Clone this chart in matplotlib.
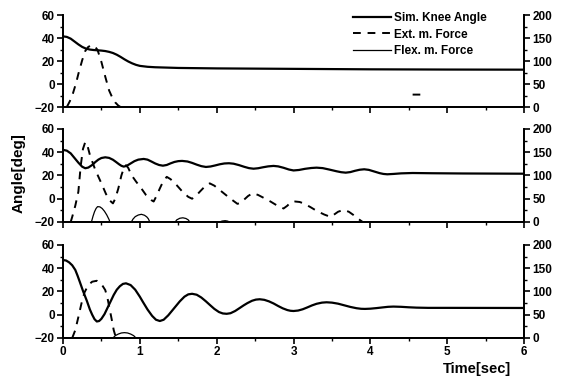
import numpy as np
import matplotlib
matplotlib.use("Agg")
import matplotlib.pyplot as plt
from matplotlib.ticker import MultipleLocator
from matplotlib.font_manager import FontProperties

# panel 1
t_knee1 = [0, 0.05, 0.1, 0.15, 0.2, 0.25, 0.3, 0.35, 0.4, 0.5, 0.55, 0.6, 0.65, 0.7, 0.75, 0.8, 0.85, 0.9, 0.95,
	1.0, 1.1, 1.2, 1.5, 2.0, 3.0, 4.0, 5.0, 6.0]
knee1 = [41.5, 41, 39.5, 37, 34.5, 32.3, 30.8, 30, 29.6, 29.1, 28.7, 28, 27, 25.5, 23.6, 21.5, 19.6, 18, 16.7,
	15.8, 15, 14.6, 14, 13.6, 13.2, 12.8, 12.6, 12.5]
t_ext1 = [0.05, 0.09, 0.13, 0.17, 0.2, 0.25, 0.29, 0.33, 0.37, 0.41, 0.45, 0.5, 0.55, 0.6, 0.64, 0.68, 0.72, 0.75,
	np.nan, 4.55, 4.65]
ext1 = [0, 13, 30, 52, 72, 102, 122, 131, 134, 133, 124, 98, 66, 36, 21, 10, 3, 0,
	np.nan, 27, 27]
t_flex1 = [0, 6]
flex1 = [0, 0]

# panel 2
t_knee2 = [0, 0.05, 0.1, 0.15, 0.2, 0.25, 0.29, 0.33, 0.38, 0.42, 0.46, 0.5, 0.55, 0.6, 0.65, 0.69, 0.73, 0.76, 0.79,
	0.83, 0.88, 0.93, 0.98, 1.05, 1.1, 1.15, 1.2, 1.25, 1.3, 1.35, 1.4, 1.45, 1.5, 1.55, 1.62, 1.68, 1.74, 1.8, 1.86,
	1.92, 1.98, 2.04, 2.1, 2.16, 2.22, 2.29, 2.36, 2.42, 2.48, 2.54, 2.6, 2.67, 2.74, 2.8, 2.87, 2.94, 3.0,
	3.07, 3.15, 3.23, 3.3, 3.38, 3.47, 3.56, 3.62, 3.68, 3.74, 3.8, 3.86, 3.92, 3.98, 4.05, 4.12, 4.17, 4.22,
	4.3, 4.4, 4.55, 4.8, 5.2, 6.0]
knee2 = [42, 41.3, 39, 35, 31, 27.5, 26.2, 26.8, 29, 31.5, 33.6, 35, 35.6, 35.1, 33.5, 31.6, 29.6, 28.3, 27.6,
	28.3, 30.3, 32.3, 33.6, 34.2, 33.6, 32, 30.3, 29, 28.4, 29, 30.4, 31.6, 32.3, 32.5, 32, 30.8, 29.3, 28, 27.3,
	27.7, 28.6, 29.6, 30.3, 30.5, 30.1, 28.9, 27.4, 26.3, 25.8, 26.2, 27, 27.8, 28.2, 27.8, 26.6, 25.1, 24.3,
	24.7, 25.7, 26.4, 26.7, 26.3, 25, 23.6, 22.8, 22.4, 22.9, 24, 24.9, 25.3, 24.8, 23.4, 22, 21.3, 21,
	21.3, 21.8, 22.1, 21.9, 21.7, 21.5]
t_ext2 = [0.1, 0.12, 0.16, 0.2, 0.23, 0.26, 0.29, 0.32, 0.35, 0.42, 0.5, 0.56, 0.61, 0.65, 0.68, 0.72, 0.76, 0.79,
	0.82, 0.85, 0.89, 0.95, 1.02, 1.08, 1.15, 1.18, 1.22, 1.26, 1.3, 1.35, 1.4, 1.48, 1.55, 1.63, 1.68, 1.73,
	1.78, 1.85, 1.91, 1.97, 2.03, 2.09, 2.18, 2.27, 2.31, 2.35, 2.41, 2.47, 2.54, 2.61, 2.7, 2.78, 2.87,
	2.92, 2.96, 3.02, 3.08, 3.13, 3.22, 3.3, 3.4, 3.48, 3.52, 3.58, 3.65, 3.72, 3.78, 3.84, 3.9]
ext2 = [0, 11, 35, 65, 120, 157, 172, 163, 144, 112, 83, 60, 46, 40, 50, 72, 100, 115,
	122, 116, 101, 87, 72, 58, 47, 44, 57, 72, 86, 97, 92, 79, 66, 54, 50, 56,
	65, 77, 83, 78, 70, 62, 50, 39, 41, 47, 56, 62, 58, 52, 44, 36, 29,
	35, 42, 44, 43, 40, 32, 24, 16, 11, 15, 22, 26, 22, 15, 7, 0]
t_flex2 = [0, 0.37, 0.39, 0.41, 0.43, 0.45, 0.48, 0.51, 0.54, 0.57, 0.6, 0.61,
	0.89, 0.91, 0.94, 0.98, 1.02, 1.06, 1.09, 1.11, 1.13,
	1.46, 1.48, 1.52, 1.56, 1.6, 1.63, 1.65, 2.04, 2.07, 2.11, 2.14, 2.17, 6]
flex2 = [0, 0, 12, 22, 29, 33, 32.5, 29, 23, 15, 5, 0,
	0, 6, 11.5, 15, 16.5, 14.5, 11, 7, 0,
	0, 4.5, 8, 9, 7.5, 4.5, 0, 0, 2, 2.8, 2, 0, 0]

# panel 3
t_knee3 = [0, 0.04, 0.08, 0.12, 0.16, 0.19, 0.22, 0.26, 0.31, 0.35, 0.38, 0.41, 0.44, 0.47, 0.5, 0.54, 0.58, 0.62,
	0.66, 0.7, 0.74, 0.78, 0.82, 0.88, 0.94, 1.0, 1.04, 1.1, 1.16, 1.21, 1.26, 1.31, 1.37, 1.42, 1.47, 1.52,
	1.58, 1.63, 1.68, 1.74, 1.8, 1.86, 1.91, 1.97, 2.03, 2.08, 2.13, 2.18, 2.24, 2.3, 2.35, 2.4, 2.46, 2.51,
	2.56, 2.62, 2.68, 2.74, 2.8, 2.86, 2.92, 2.96, 3.0, 3.06, 3.12, 3.18, 3.24, 3.3, 3.37, 3.43, 3.5, 3.58,
	3.66, 3.74, 3.82, 3.88, 3.93, 4.0, 4.08, 4.16, 4.23, 4.3, 4.4, 4.5, 4.6, 4.75, 5.0, 6.0]
knee3 = [47, 46.6, 45, 42.5, 38.5, 33.5, 28, 20.5, 12, 4.5, 0, -3.8, -5.8, -5.4, -3.5, 0.5, 6, 11.5,
	17, 21.5, 24.5, 26.5, 27, 25.5, 21.5, 15.5, 11, 4.5, -1, -4.3, -5.4, -4.3, -0.5, 3.5, 7.5, 11.5,
	15.5, 17.5, 18, 17.2, 14.8, 11.5, 8.5, 5, 2.3, 1.1, 0.8, 1.3, 3.2, 5.8, 8, 10, 12, 13,
	13.3, 12.8, 11.5, 9.7, 7.5, 5.5, 4, 3.4, 3.2, 3.6, 4.7, 6.3, 8, 9.4, 10.4, 10.7, 10.4, 9.5,
	8.1, 6.7, 5.6, 5.1, 5, 5.2, 5.7, 6.3, 6.8, 7, 6.8, 6.4, 6.1, 5.9, 5.9, 5.8]
t_ext3 = [0.12, 0.16, 0.2, 0.24, 0.28, 0.33, 0.38, 0.44, 0.5, 0.55, 0.58, 0.61, 0.64, 0.66, 0.69]
ext3 = [0, 17, 45, 74, 98, 114, 121, 123, 116, 103, 85, 60, 35, 17, 0]
t_flex3 = [0, 0.65, 0.68, 0.72, 0.76, 0.8, 0.84, 0.88, 0.92, 0.95, 6]
flex3 = [0, 0, 5, 8.5, 10.8, 11.5, 10.8, 8.5, 5, 0, 0]

panels = [
	(t_knee1, knee1, t_ext1, ext1, t_flex1, flex1),
	(t_knee2, knee2, t_ext2, ext2, t_flex2, flex2),
	(t_knee3, knee3, t_ext3, ext3, t_flex3, flex3),
]

tick_font = FontProperties(family='Liberation Sans', weight='bold', size=8.5)


def style_axis(ax):
	ax.tick_params(direction='out', width=1.2, length=4, pad=2)
	ax.tick_params(which='minor', direction='out', width=1, length=2.5)
	for lab in ax.get_xticklabels() + ax.get_yticklabels():
		lab.set_fontproperties(tick_font)
	for s in ['left', 'right', 'bottom']:
		ax.spines[s].set_linewidth(1.3)
	ax.spines['top'].set_visible(False)


def plot():
	fig = plt.figure(figsize=(5.65, 3.83), dpi=100)
	bottoms = [0.7206, 0.4204, 0.1175]
	heights = [0.240, 0.243, 0.243]
	first = None
	for i, (tk, k, te, e, tf, f) in enumerate(panels):
		ax = fig.add_axes([0.1115, bottoms[i], 0.816, heights[i]])
		ax2 = ax.twinx()
		l1, = ax.plot(tk, k, color='black', lw=1.6)
		l2, = ax2.plot(te, e, color='black', lw=1.4, linestyle=(0, (4, 3.5)))
		l3, = ax2.plot(tf, f, color='black', lw=0.9)
		ax.set_xlim(0, 6)
		ax.set_ylim(-20, 60)
		ax2.set_ylim(0, 200)
		ax.xaxis.set_major_locator(MultipleLocator(1))
		ax.xaxis.set_minor_locator(MultipleLocator(0.5))
		ax.yaxis.set_major_locator(MultipleLocator(20))
		ax.yaxis.set_minor_locator(MultipleLocator(10))
		ax2.yaxis.set_major_locator(MultipleLocator(50))
		ax2.yaxis.set_minor_locator(MultipleLocator(25))
		if i < 2:
			ax.set_xticklabels([])
		style_axis(ax)
		style_axis(ax2)
		if i == 0:
			first = (ax, [l1, l2, l3])
	ax0, lines = first
	leg = ax0.legend(lines, ['Sim. Knee Angle', 'Ext. m. Force', 'Flex. m. Force'],
		loc='upper right', bbox_to_anchor=(0.93, 1.08), frameon=False,
		prop={'family': 'Liberation Sans', 'weight': 'bold', 'size': 8.5},
		handlelength=3.2, handletextpad=0.3, labelspacing=0.35, borderaxespad=0)
	leg.set_zorder(10)
	fig.text(0.033, 0.548, 'Angle[deg]', rotation=90, ha='center', va='center',
		fontfamily='Liberation Sans', fontweight='bold', fontsize=11)
	fig.text(0.905, 0.018, 'Time[sec]', ha='right', va='bottom',
		fontfamily='Liberation Sans', fontweight='bold', fontsize=10.5)
	fig.savefig('out.png', dpi=100)


def main():
	plot()


if __name__ == "__main__":
	main()
